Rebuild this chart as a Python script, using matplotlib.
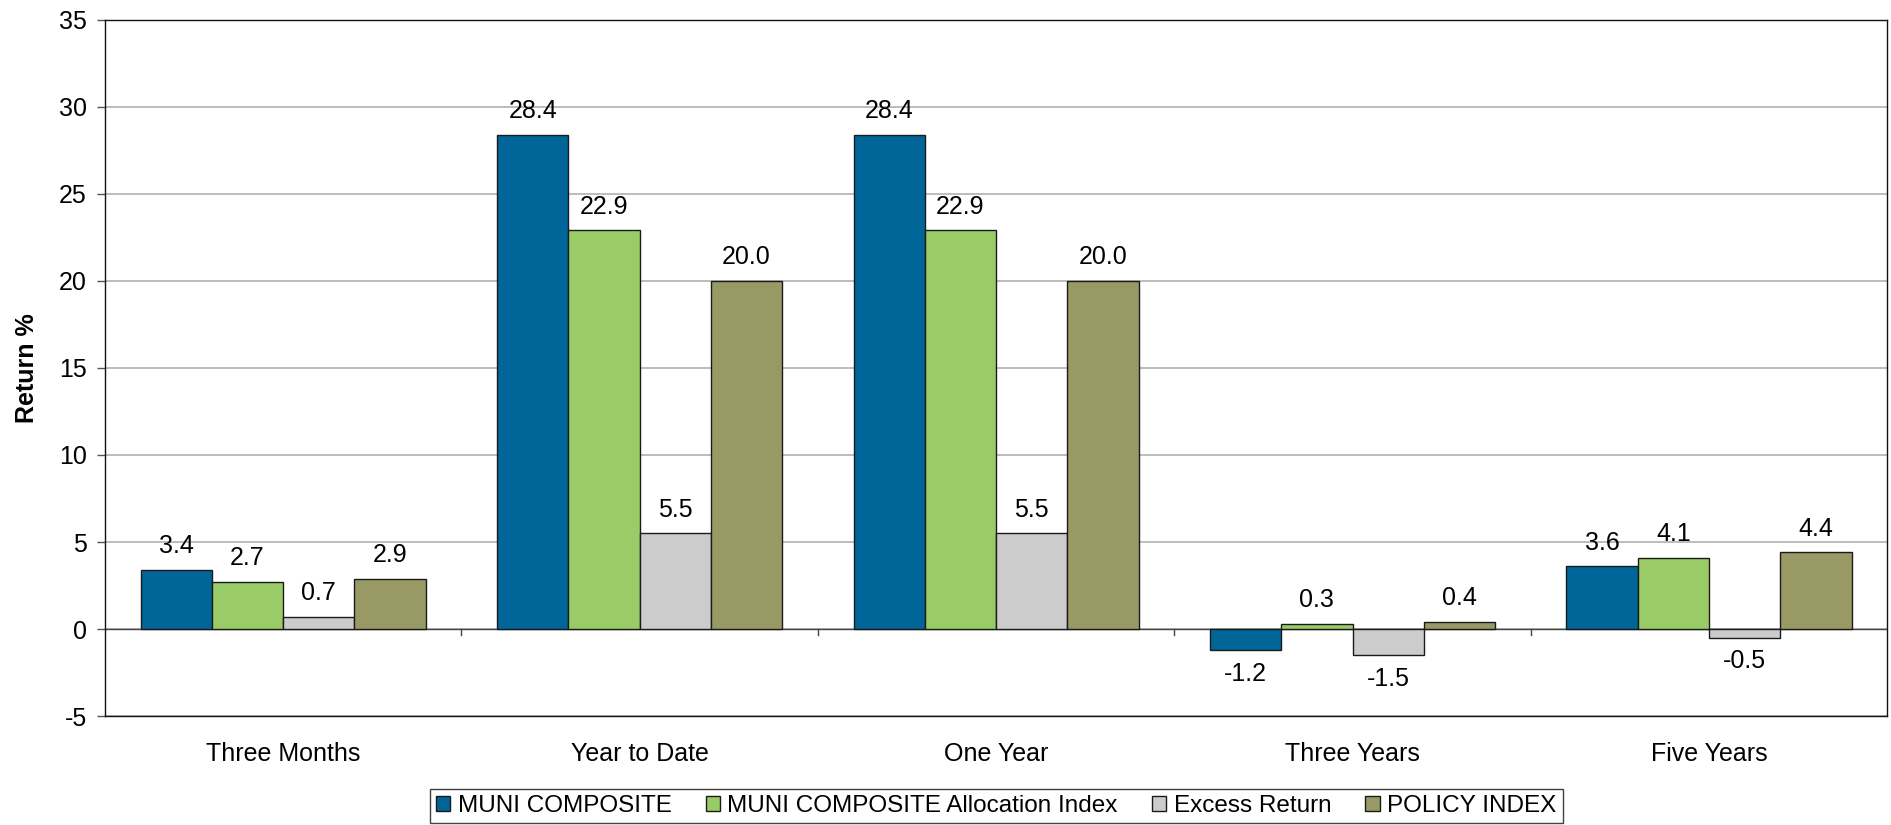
import matplotlib

matplotlib.use("Agg")
import matplotlib.pyplot as plt
import numpy as np

plt.rcParams["font.family"] = ["Liberation Sans", "DejaVu Sans"]
plt.rcParams["axes.unicode_minus"] = False

categories = ["Three Months", "Year to Date", "One Year", "Three Years", "Five Years"]
series_names = ["MUNI COMPOSITE", "MUNI COMPOSITE Allocation Index",
                "Excess Return", "POLICY INDEX"]
muni_composite = [3.4, 28.4, 28.4, -1.2, 3.6]
allocation_index = [2.7, 22.9, 22.9, 0.3, 4.1]
excess_return = [0.7, 5.5, 5.5, -1.5, -0.5]
policy_index = [2.9, 20.0, 20.0, 0.4, 4.4]
yticks = [-5, 0, 5, 10, 15, 20, 25, 30, 35]

colors = ["#006699", "#99cc66", "#cccccc", "#999966"]

fig = plt.figure(figsize=(18.91, 8.25), dpi=100)
ax = fig.add_axes([0.0555, 0.132, 0.9425, 0.844])

x = np.arange(len(categories))
width = 0.2
offsets = [-1.5, -0.5, 0.5, 1.5]
all_series = [muni_composite, allocation_index, excess_return, policy_index]

for vals, name, col, off in zip(all_series, series_names, colors, offsets):
    bars = ax.bar(x + off * width, vals, width, color=col, edgecolor="#1a1a1a",
                  linewidth=1.0, label=name, zorder=3)
    for b, v in zip(bars, vals):
        dy = 17 if v >= 0 else -17
        ax.annotate(f"{v:.1f}", (b.get_x() + b.get_width() / 2, v),
                    xytext=(0, dy), textcoords="offset points",
                    ha="center", va="center", fontsize=18, zorder=4)

ax.set_xlim(-0.5, len(categories) - 0.5)
ax.set_ylim(-5, 35)
ax.set_yticks(yticks)
ax.tick_params(axis="y", labelsize=18, length=6, width=1, pad=7, color="#555555")
ax.yaxis.grid(True, color="#b0b0b0", linewidth=1.2, zorder=0)
ax.axhline(0, color="#444444", linewidth=1.0, zorder=2)

# category divider ticks on the zero line
for b in np.arange(0.5, len(categories) - 0.5, 1.0):
    ax.plot([b, b], [0, -0.35], color="#444444", linewidth=1.0, zorder=2)

ax.set_xticks(x)
ax.set_xticklabels(categories, fontsize=18)
ax.tick_params(axis="x", length=0, pad=19)
ax.set_ylabel("Return %", fontsize=18, fontweight="bold", labelpad=14)

for s in ax.spines.values():
    s.set_color("#111111")
    s.set_linewidth(1.0)

leg = ax.legend(loc="upper center", bbox_to_anchor=(0.5, -0.105), ncol=4,
                frameon=True, fancybox=False, edgecolor="#111111",
                prop={"size": 17.5},
                handlelength=0.6, handleheight=0.6, handletextpad=0.3,
                columnspacing=1.4, borderpad=0.25, borderaxespad=0)
leg.get_frame().set_linewidth(1.0)
for h in leg.legend_handles:
    h.set_edgecolor("#1a1a1a")

fig.savefig("out.png", dpi=100)
